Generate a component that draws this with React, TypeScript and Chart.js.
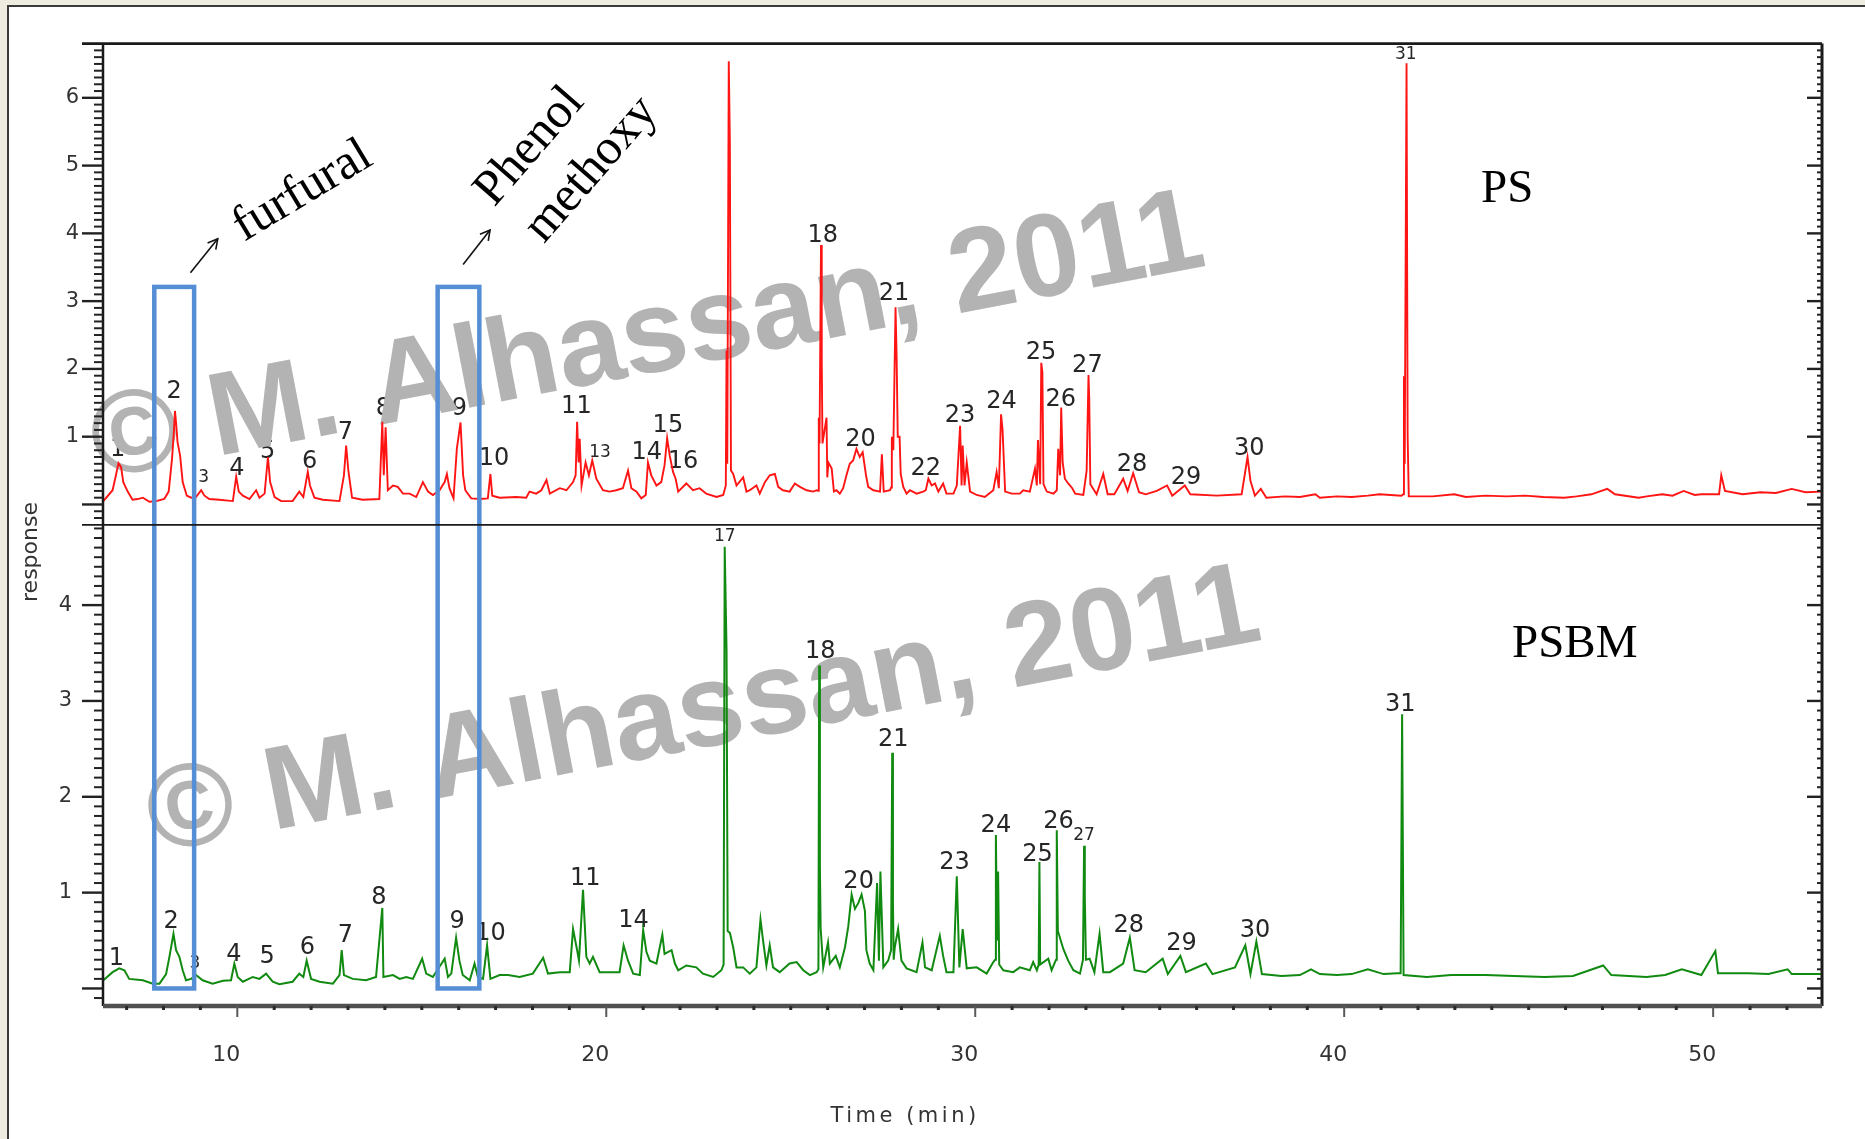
import React, { useEffect, useRef } from 'react';
import { Chart, registerables } from 'chart.js';

Chart.register(...registerables);

// ---------------- DATA ----------------
// PS chromatogram (time in min, response)
const psTrace: [number, number][] = [
  [6.37,0.05],[6.62,0.21],[6.71,0.43],[6.78,0.61],[6.85,0.55],[6.91,0.33],[7.03,0.19],[7.16,0.07],[7.30,0.08],[7.44,0.10],
  [7.62,0.04],[7.80,0.05],[8.02,0.08],[8.14,0.19],[8.23,0.67],[8.28,1.06],[8.31,1.38],[8.34,1.21],[8.38,0.92],[8.45,0.72],
  [8.52,0.33],[8.63,0.13],[8.75,0.10],[8.88,0.11],[9.02,0.21],[9.11,0.13],[9.24,0.08],[9.51,0.07],[9.88,0.05],[9.97,0.41],
  [10.04,0.19],[10.15,0.13],[10.33,0.08],[10.51,0.21],[10.60,0.10],[10.74,0.16],[10.83,0.70],[10.89,0.33],[11.01,0.11],[11.19,0.05],
  [11.50,0.05],[11.68,0.19],[11.79,0.11],[11.91,0.48],[11.97,0.28],[12.09,0.10],[12.32,0.07],[12.77,0.05],[12.89,0.43],[12.95,0.87],
  [13.01,0.50],[13.11,0.10],[13.40,0.07],[13.85,0.08],[13.93,1.22],[13.97,0.43],[14.02,1.14],[14.08,0.21],[14.22,0.28],[14.35,0.26],
  [14.49,0.16],[14.67,0.16],[14.85,0.11],[15.03,0.33],[15.17,0.19],[15.30,0.14],[15.48,0.21],[15.62,0.33],[15.68,0.45],[15.75,0.24],
  [15.86,0.09],[15.95,0.82],[16.05,1.21],[16.12,0.43],[16.18,0.21],[16.34,0.09],[16.57,0.08],[16.79,0.09],[16.86,0.45],[16.91,0.13],
  [17.11,0.10],[17.56,0.11],[17.83,0.10],[17.92,0.19],[18.10,0.16],[18.24,0.21],[18.38,0.36],[18.47,0.16],[18.74,0.24],[18.92,0.21],
  [19.10,0.33],[19.17,0.43],[19.21,1.22],[19.25,0.62],[19.28,0.97],[19.33,0.28],[19.44,0.62],[19.53,0.43],[19.62,0.65],[19.73,0.38],
  [19.91,0.21],[20.09,0.19],[20.27,0.21],[20.45,0.24],[20.59,0.50],[20.68,0.24],[20.82,0.19],[20.95,0.09],[21.07,0.14],[21.13,0.62],
  [21.22,0.43],[21.36,0.28],[21.49,0.33],[21.58,0.58],[21.65,0.98],[21.72,0.72],[21.81,0.48],[21.88,0.38],[21.95,0.19],[22.17,0.31],
  [22.35,0.21],[22.53,0.24],[22.71,0.16],[22.99,0.11],[23.17,0.14],[23.24,0.28],[23.26,2.27],[23.28,0.60],[23.32,6.54],[23.35,5.33],
  [23.38,0.50],[23.44,0.45],[23.53,0.28],[23.71,0.40],[23.80,0.19],[23.89,0.21],[24.07,0.28],[24.16,0.16],[24.30,0.33],[24.43,0.43],
  [24.57,0.45],[24.66,0.26],[24.79,0.21],[24.97,0.19],[25.11,0.31],[25.25,0.26],[25.43,0.21],[25.61,0.19],[25.70,0.21],[25.75,0.20],
  [25.76,1.28],[25.78,0.90],[25.82,3.83],[25.84,2.10],[25.86,0.90],[25.97,1.28],[25.99,0.40],[26.02,0.62],[26.11,0.53],[26.17,0.19],
  [26.24,0.21],[26.33,0.16],[26.42,0.24],[26.51,0.43],[26.60,0.60],[26.69,0.65],[26.78,0.82],[26.87,0.70],[26.95,0.77],[27.04,0.43],
  [27.10,0.26],[27.24,0.21],[27.42,0.19],[27.47,0.74],[27.52,0.19],[27.69,0.21],[27.72,0.25],[27.74,1.00],[27.78,0.80],[27.84,2.91],
  [27.87,2.17],[27.90,1.00],[27.95,1.00],[27.98,0.45],[28.05,0.26],[28.14,0.16],[28.23,0.21],[28.41,0.16],[28.59,0.19],[28.66,0.21],
  [28.73,0.38],[28.82,0.28],[28.91,0.31],[29.00,0.19],[29.13,0.31],[29.22,0.16],[29.41,0.16],[29.50,0.28],[29.59,1.16],[29.63,0.28],
  [29.66,0.87],[29.71,0.28],[29.77,0.62],[29.86,0.19],[30.04,0.14],[30.26,0.11],[30.49,0.21],[30.58,0.48],[30.64,0.24],[30.70,1.33],
  [30.74,1.11],[30.81,0.19],[30.99,0.16],[31.21,0.16],[31.30,0.21],[31.48,0.19],[31.62,0.53],[31.67,0.28],[31.70,0.95],[31.76,0.30],
  [31.79,2.09],[31.82,1.95],[31.85,0.30],[31.94,0.19],[32.12,0.16],[32.21,0.21],[32.25,0.82],[32.30,0.43],[32.33,1.43],[32.37,0.62],
  [32.43,0.38],[32.52,0.31],[32.63,0.24],[32.71,0.16],[32.93,0.14],[33.02,0.50],[33.07,1.91],[33.09,1.56],[33.12,0.30],[33.29,0.15],
  [33.47,0.45],[33.59,0.15],[33.77,0.15],[34.01,0.38],[34.13,0.20],[34.28,0.46],[34.44,0.18],[34.62,0.15],[34.92,0.20],[35.20,0.28],
  [35.34,0.13],[35.68,0.28],[35.83,0.15],[36.55,0.13],[37.22,0.15],[37.38,0.70],[37.46,0.35],[37.58,0.13],[37.74,0.23],[37.89,0.10],
  [38.40,0.12],[38.80,0.11],[39.22,0.15],[39.34,0.10],[39.80,0.12],[40.20,0.11],[40.64,0.13],[40.96,0.15],[41.55,0.13],[41.60,0.15],
  [41.62,1.89],[41.64,0.60],[41.69,6.51],[41.72,1.00],[41.75,0.12],[42.40,0.12],[42.98,0.15],[43.30,0.11],[43.83,0.13],
  [44.40,0.12],[44.90,0.13],[45.40,0.11],[45.96,0.10],[46.30,0.12],[46.70,0.15],[47.13,0.23],[47.34,0.15],[47.98,0.10],[48.20,0.12],
  [48.62,0.15],[48.90,0.13],[49.20,0.20],[49.50,0.14],[49.68,0.15],[50.16,0.15],[50.22,0.43],[50.32,0.20],[50.80,0.15],[51.28,0.18],
  [51.70,0.17],[52.13,0.23],[52.50,0.18],[52.95,0.19]
];

// PSBM chromatogram (time in min, response)
const psbmTrace: [number, number][] = [
  [6.37,0.085],[6.62,0.17],[6.80,0.21],[6.94,0.19],[7.07,0.10],[7.44,0.085],[7.71,0.05],[7.89,0.05],[8.07,0.15],[8.16,0.33],
  [8.27,0.57],[8.34,0.40],[8.43,0.33],[8.52,0.19],[8.61,0.085],[8.75,0.10],[8.88,0.14],[9.06,0.085],[9.33,0.05],[9.61,0.08],
  [9.83,0.085],[9.92,0.26],[10.01,0.12],[10.15,0.07],[10.42,0.12],[10.60,0.10],[10.78,0.155],[10.96,0.07],[11.14,0.045],[11.50,0.07],
  [11.68,0.155],[11.79,0.12],[11.88,0.29],[12.00,0.10],[12.23,0.07],[12.59,0.05],[12.77,0.14],[12.83,0.40],[12.89,0.14],[13.13,0.10],
  [13.49,0.085],[13.76,0.12],[13.93,0.84],[13.96,0.12],[14.22,0.14],[14.40,0.10],[14.58,0.12],[14.76,0.10],[15.01,0.31],[15.12,0.155],
  [15.30,0.12],[15.62,0.31],[15.71,0.12],[15.80,0.155],[15.93,0.53],[16.02,0.29],[16.11,0.14],[16.30,0.085],[16.43,0.26],[16.52,0.12],
  [16.66,0.10],[16.77,0.45],[16.86,0.10],[17.11,0.14],[17.34,0.14],[17.65,0.12],[18.01,0.155],[18.29,0.32],[18.42,0.155],[18.74,0.17],
  [19.01,0.17],[19.10,0.62],[19.21,0.40],[19.26,0.29],[19.37,1.03],[19.46,0.33],[19.55,0.26],[19.64,0.33],[19.82,0.17],[20.09,0.17],
  [20.36,0.17],[20.47,0.45],[20.59,0.29],[20.73,0.155],[20.91,0.14],[21.00,0.61],[21.09,0.38],[21.18,0.29],[21.36,0.26],[21.52,0.56],
  [21.58,0.36],[21.77,0.40],[21.86,0.26],[21.95,0.19],[22.17,0.24],[22.44,0.22],[22.62,0.155],[22.90,0.12],[23.12,0.19],[23.18,0.25],
  [23.21,4.61],[23.26,3.53],[23.29,0.60],[23.35,0.58],[23.44,0.43],[23.53,0.22],[23.71,0.22],[23.89,0.155],[24.07,0.22],[24.18,0.72],
  [24.25,0.50],[24.34,0.24],[24.43,0.45],[24.52,0.22],[24.70,0.17],[24.97,0.26],[25.16,0.275],[25.34,0.19],[25.52,0.14],[25.70,0.17],
  [25.75,0.20],[25.77,3.37],[25.79,1.27],[25.81,0.63],[25.88,0.22],[26.01,0.48],[26.06,0.26],[26.22,0.34],[26.33,0.22],[26.47,0.43],
  [26.56,0.65],[26.65,0.98],[26.74,0.83],[26.83,0.89],[26.92,0.98],[27.01,0.81],[27.05,0.40],[27.14,0.26],[27.24,0.19],[27.34,1.10],
  [27.39,0.29],[27.43,1.22],[27.51,0.22],[27.64,0.29],[27.72,0.40],[27.75,2.46],[27.77,0.90],[27.79,0.30],[27.82,0.43],[27.91,0.62],
  [28.00,0.29],[28.14,0.21],[28.41,0.17],[28.57,0.48],[28.64,0.22],[28.82,0.19],[29.04,0.55],[29.13,0.34],[29.22,0.17],[29.41,0.17],
  [29.50,1.17],[29.57,0.22],[29.66,0.62],[29.77,0.21],[30.04,0.22],[30.31,0.155],[30.49,0.275],[30.54,0.30],[30.56,1.60],[30.59,0.50],
  [30.62,1.22],[30.65,0.25],[30.76,0.19],[31.03,0.17],[31.21,0.22],[31.48,0.19],[31.57,0.275],[31.67,0.19],[31.72,0.25],[31.74,1.32],
  [31.76,0.25],[31.98,0.31],[32.07,0.19],[32.19,0.30],[32.21,1.65],[32.24,0.60],[32.39,0.41],[32.52,0.29],[32.66,0.19],[32.84,0.155],
  [32.92,0.30],[32.95,1.49],[32.97,0.94],[33.00,0.30],[33.10,0.31],[33.23,0.17],[33.37,0.57],[33.47,0.17],[33.65,0.17],[34.01,0.26],
  [34.19,0.53],[34.32,0.19],[34.62,0.17],[35.08,0.31],[35.22,0.15],[35.56,0.34],[35.71,0.17],[36.25,0.26],[36.43,0.15],[37.04,0.22],
  [37.32,0.45],[37.46,0.15],[37.62,0.49],[37.77,0.15],[38.30,0.13],[38.80,0.14],[39.10,0.20],[39.34,0.15],[39.80,0.14],[40.20,0.15],
  [40.64,0.20],[41.07,0.15],[41.44,0.16],[41.53,0.16],[41.57,2.86],[41.61,0.14],[42.24,0.12],[42.90,0.14],[43.83,0.14],[44.60,0.13],
  [45.43,0.12],[46.20,0.13],[47.02,0.24],[47.24,0.14],[48.19,0.12],[48.70,0.14],[49.15,0.20],[49.68,0.14],[50.06,0.39],[50.13,0.16],
  [50.96,0.16],[51.50,0.15],[52.02,0.20],[52.13,0.15],[52.95,0.15]
];

// Peak numbers (label text, retention time, label height in response units)
const psPeakNo = ['1','2','3','4','5','6','7','8','9','10','11','13','14','15','16','18','20','21','22','23','24','25','26','27','28','29','30','31'];
const psPeakTime = [6.76,8.29,9.09,9.99,10.82,11.96,12.93,13.96,16.02,16.96,19.19,19.83,21.10,21.67,22.08,25.87,26.89,27.80,28.66,29.59,30.71,31.78,32.32,33.04,34.25,35.71,37.43,41.67];
const psPeakLabelAt = [0.81,1.66,0.40,0.53,0.78,0.63,1.06,1.41,1.41,0.67,1.44,0.76,0.76,1.16,0.63,3.97,0.96,3.11,0.53,1.31,1.51,2.24,1.54,2.04,0.58,0.40,0.82,6.64];
const psSmallLabels = ['3','13','31'];

const psbmPeakNo = ['1','2','3','4','5','6','7','8','9','10','11','14','17','18','20','21','23','24','25','26','27','28','29','30','31'];
const psbmPeakTime = [6.72,8.21,8.85,9.91,10.81,11.90,12.93,13.84,15.96,16.86,19.43,20.74,23.21,25.80,26.84,27.78,29.44,30.56,31.69,32.26,32.95,34.16,35.59,37.58,41.52];
const psbmPeakLabelAt = [0.31,0.70,0.26,0.35,0.33,0.42,0.55,0.95,0.70,0.57,1.14,0.71,4.71,3.51,1.11,2.59,1.31,1.70,1.40,1.74,1.60,0.65,0.47,0.60,2.96];
const psbmSmallLabels = ['3','17','27'];

// Axis ticks
const xTickValues = [10, 20, 30, 40, 50];
const psTickValues = [0, 1, 2, 3, 4, 5, 6];
const psbmTickValues = [0, 1, 2, 3, 4];

// Highlight boxes (time ranges) : furfural, phenol methoxy
const boxRanges: [number, number][] = [[7.75, 8.83], [15.43, 16.56]];
const boxTopPs = 3.21;     // top edge, PS response units
const boxBottomPsbm = 0.0; // bottom edge, PSBM response units

// ---------------- DRAWING HELPERS ----------------
const W = 1865;
const H = 1139;

function drawArrow(ctx: CanvasRenderingContext2D, x0: number, y0: number, x1: number, y1: number) {
  ctx.beginPath();
  ctx.moveTo(x0, y0);
  ctx.lineTo(x1, y1);
  ctx.stroke();
  const a = Math.atan2(y1 - y0, x1 - x0);
  const L = 11;
  ctx.beginPath();
  ctx.moveTo(x1 - L * Math.cos(a - 0.5), y1 - L * Math.sin(a - 0.5));
  ctx.lineTo(x1, y1);
  ctx.lineTo(x1 - L * Math.cos(a + 0.5), y1 - L * Math.sin(a + 0.5));
  ctx.stroke();
}

function rotText(ctx: CanvasRenderingContext2D, text: string, x: number, y: number, deg: number) {
  ctx.save();
  ctx.translate(x, y);
  ctx.rotate((deg * Math.PI) / 180);
  ctx.fillText(text, 0, 0);
  ctx.restore();
}

const overlayPlugin = {
  id: 'overlay',
  beforeDatasetsDraw(chart: any) {
    const ctx: CanvasRenderingContext2D = chart.ctx;
    const xs = chart.scales.x;
    const yT = chart.scales.yTop;
    const yB = chart.scales.yBot;
    ctx.save();
    ctx.fillStyle = '#262626';
    ctx.textAlign = 'center';
    ctx.textBaseline = 'middle';
    psPeakNo.forEach((n, i) => {
      ctx.font = (psSmallLabels.includes(n) ? '17px' : '24px') + ' "DejaVu Sans"';
      ctx.fillText(n, xs.getPixelForValue(psPeakTime[i]), yT.getPixelForValue(psPeakLabelAt[i]));
    });
    psbmPeakNo.forEach((n, i) => {
      ctx.font = (psbmSmallLabels.includes(n) ? '17px' : '24px') + ' "DejaVu Sans"';
      ctx.fillText(n, xs.getPixelForValue(psbmPeakTime[i]), yB.getPixelForValue(psbmPeakLabelAt[i]));
    });
    // watermark
    ctx.fillStyle = '#b3b3b3';
    ctx.font = 'bold 118px "Liberation Sans"';
    ctx.textAlign = 'left';
    ctx.textBaseline = 'alphabetic';
    rotText(ctx, '\u00A9 M. Alhassan, 2011', 99, 479, -10.9);
    rotText(ctx, '\u00A9 M. Alhassan, 2011', 155, 853, -10.9);
    ctx.restore();
  },
  afterDatasetsDraw(chart: any) {
    const ctx: CanvasRenderingContext2D = chart.ctx;
    const xs = chart.scales.x;
    const yT = chart.scales.yTop;
    const yB = chart.scales.yBot;
    const area = chart.chartArea;
    const X = (t: number) => xs.getPixelForValue(t);
    const YT = (v: number) => yT.getPixelForValue(v);
    const YB = (v: number) => yB.getPixelForValue(v);
    ctx.save();

    // blue highlight boxes
    ctx.strokeStyle = '#558ed5';
    ctx.lineWidth = 4.5;
    boxRanges.forEach(([a, b]) => {
      const x0 = X(a), x1 = X(b), y0 = YT(boxTopPs), y1 = YB(boxBottomPsbm);
      ctx.strokeRect(x0, y0, x1 - x0, y1 - y0);
    });

    // arrows
    ctx.strokeStyle = '#111';
    ctx.lineWidth = 1.6;
    drawArrow(ctx, X(8.73), YT(3.42), X(9.47), YT(3.92));
    drawArrow(ctx, X(16.12), YT(3.54), X(16.85), YT(4.05));

    // annotation texts
    ctx.fillStyle = '#000';
    ctx.textAlign = 'center';
    ctx.textBaseline = 'middle';
    ctx.font = '50px "Liberation Serif"';
    rotText(ctx, 'furfural', X(11.77), YT(4.62), -31);
    rotText(ctx, 'Phenol', X(17.93), YT(5.28), -49);
    rotText(ctx, 'methoxy', X(19.60), YT(4.94), -49);
    ctx.textAlign = 'left';
    ctx.textBaseline = 'alphabetic';
    ctx.font = '47px "Liberation Serif"';
    ctx.fillText('PS', X(43.71), YT(4.46));
    ctx.fillText('PSBM', X(44.55), YB(3.46));

    // axis frame lines
    const left = area.left, right = area.right, top = area.top, bottom = area.bottom;
    const mid = yT.bottom;
    ctx.strokeStyle = '#1a1a1a';
    ctx.lineWidth = 2.8;
    ctx.beginPath(); ctx.moveTo(82, top); ctx.lineTo(right, top); ctx.stroke();
    ctx.lineWidth = 2.5;
    ctx.beginPath(); ctx.moveTo(left, top); ctx.lineTo(left, bottom); ctx.stroke();
    ctx.lineWidth = 3;
    ctx.beginPath(); ctx.moveTo(right, top); ctx.lineTo(right, bottom); ctx.stroke();
    ctx.lineWidth = 1.7;
    ctx.beginPath(); ctx.moveTo(82, mid); ctx.lineTo(right, mid); ctx.stroke();

    // y ticks (both panels, both sides)
    const drawYTicks = (scale: any, majors: number[]) => {
      const kMin = Math.ceil(scale.min * 10 + 1e-6);
      const kMax = Math.floor(scale.max * 10 - 1e-6);
      for (let k = kMin; k <= kMax; k++) {
        const v = k / 10;
        const y = scale.getPixelForValue(v);
        const isMajor = k % 10 === 0 && majors.includes(k / 10);
        ctx.lineWidth = isMajor ? 2.4 : 2;
        ctx.beginPath();
        ctx.moveTo(left - (isMajor ? 21 : 9), y);
        ctx.lineTo(left, y);
        ctx.stroke();
        ctx.beginPath();
        ctx.moveTo(right - (isMajor ? 15 : 5), y);
        ctx.lineTo(right, y);
        ctx.stroke();
      }
    };
    ctx.strokeStyle = '#222';
    drawYTicks(yT, psTickValues);
    drawYTicks(yB, psbmTickValues);

    // bottom axis
    ctx.strokeStyle = '#505050';
    ctx.lineWidth = 4.5;
    ctx.beginPath(); ctx.moveTo(left, bottom); ctx.lineTo(right, bottom); ctx.stroke();
    for (let k = Math.ceil(xs.min); k <= Math.floor(xs.max); k++) {
      const x = X(k);
      const major = xTickValues.includes(k);
      ctx.strokeStyle = major ? '#5a5a5a' : '#2a2a2a';
      ctx.lineWidth = major ? 2 : 3;
      ctx.beginPath();
      ctx.moveTo(x, bottom);
      ctx.lineTo(x, bottom + (major ? 11 : 4));
      ctx.stroke();
    }

    // axis titles
    ctx.fillStyle = '#333';
    ctx.textAlign = 'center';
    ctx.textBaseline = 'middle';
    ctx.font = '21px "DejaVu Sans"';
    (ctx as any).letterSpacing = '3.5px';
    ctx.fillText('Time (min)', X(28.1), bottom + 111);
    (ctx as any).letterSpacing = '0px';
    ctx.font = '22px "DejaVu Sans"';
    rotText(ctx, 'response', 31, 552, -90);

    ctx.restore();
  }
};

export default function App() {
  const ref = useRef<HTMLCanvasElement>(null);
  useEffect(() => {
    const canvas = ref.current;
    if (!canvas) return;
    const chart = new Chart(canvas, {
      type: 'line',
      data: {
        datasets: [
          {
            label: 'PS',
            data: psTrace.map(([t, v]) => ({ x: t, y: v })),
            yAxisID: 'yTop',
            borderColor: '#ff1414',
            borderWidth: 1.9,
            pointRadius: 0,
            tension: 0,
            fill: false,
          },
          {
            label: 'PSBM',
            data: psbmTrace.map(([t, v]) => ({ x: t, y: v })),
            yAxisID: 'yBot',
            borderColor: '#108a10',
            borderWidth: 2,
            pointRadius: 0,
            tension: 0,
            fill: false,
          },
        ],
      },
      options: {
        animation: false,
        responsive: false,
        devicePixelRatio: 1,
        layout: { padding: { left: 0, top: 34, right: 43, bottom: 0 } },
        plugins: { legend: { display: false }, tooltip: { enabled: false }, title: { display: false } },
        scales: {
          x: {
            type: 'linear',
            position: 'bottom',
            min: 6.36,
            max: 52.95,
            afterBuildTicks: (s: any) => { s.ticks = xTickValues.map((v) => ({ value: v })); },
            afterFit: (s: any) => { s.height = 133; },
            grid: { display: false, drawTicks: false, tickLength: 0 },
            border: { display: false },
            ticks: {
              font: { family: 'DejaVu Sans', size: 22 },
              color: '#333',
              padding: 36,
              labelOffset: -11,
              maxRotation: 0,
              autoSkip: false,
              callback: (v: any) => String(v),
            },
          },
          yBot: {
            type: 'linear',
            position: 'left',
            stack: 'panels',
            stackWeight: 1,
            min: -0.183,
            max: 4.838,
            afterBuildTicks: (s: any) => { s.ticks = psbmTickValues.map((v) => ({ value: v })); },
            afterFit: (s: any) => { s.width = 103; },
            grid: { display: false, drawTicks: false, tickLength: 0 },
            border: { display: false },
            ticks: {
              font: { family: 'DejaVu Sans', size: 21 },
              color: '#333',
              padding: 31,
              callback: (v: any) => (v === 0 ? '' : String(v)),
            },
          },
          yTop: {
            type: 'linear',
            position: 'left',
            stack: 'panels',
            stackWeight: 1,
            min: -0.30,
            max: 6.80,
            afterBuildTicks: (s: any) => { s.ticks = psTickValues.map((v) => ({ value: v })); },
            afterFit: (s: any) => { s.width = 103; },
            grid: { display: false, drawTicks: false, tickLength: 0 },
            border: { display: false },
            ticks: {
              font: { family: 'DejaVu Sans', size: 21 },
              color: '#333',
              padding: 24,
              callback: (v: any) => (v === 0 ? '' : String(v)),
            },
          },
        },
      } as any,
      plugins: [overlayPlugin],
    });
    return () => chart.destroy();
  }, []);

  return (
    <div style={{ position: 'fixed', left: 0, top: 0, width: W, height: H, background: '#eeece1', overflow: 'hidden' }}>
      <div
        style={{
          position: 'absolute',
          left: 7,
          top: 5,
          right: 0,
          bottom: 0,
          background: '#ffffff',
          borderLeft: '2px solid #3a3a3a',
          borderTop: '2px solid #3a3a3a',
        }}
      />
      <canvas ref={ref} width={W} height={H} style={{ position: 'absolute', left: 0, top: 0, width: W, height: H }} />
    </div>
  );
}
